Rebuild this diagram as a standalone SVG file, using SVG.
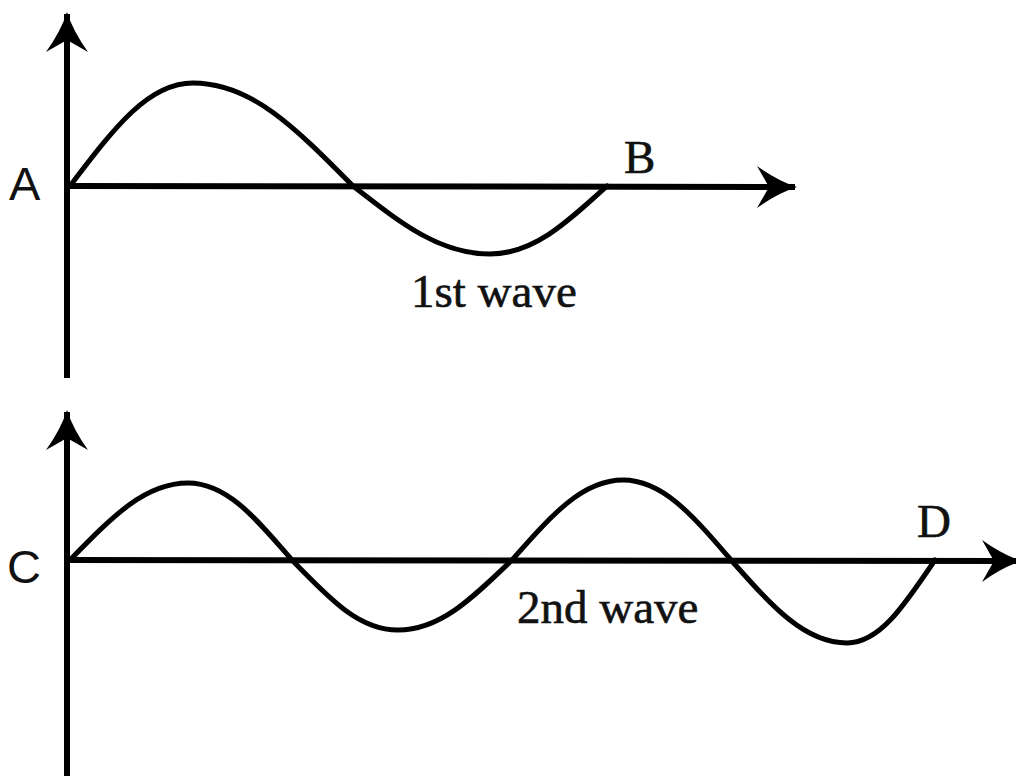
<svg xmlns="http://www.w3.org/2000/svg" width="1016" height="776" viewBox="0 0 1016 776">
<style>
.axis{stroke:#000;stroke-width:6;fill:none;marker-end:url(#arr)}
.wave{stroke:#000;stroke-width:5;fill:none;stroke-linejoin:round;stroke-linecap:round}
.sans{font-family:"Liberation Sans",Arial,sans-serif;font-size:47px;fill:#111}
.serif{font-family:"Liberation Serif","Times New Roman",serif;font-size:47px;fill:#111;stroke:#111;stroke-width:0.6}
</style>
<defs>
<marker id="arr" markerUnits="userSpaceOnUse" markerWidth="44" markerHeight="46" viewBox="-41 -23 44 46" refX="0" refY="0" orient="auto">
<path d="M2,0 Q-17,6 -38,21 L-26,0 L-38,-21 Q-17,-6 2,0 Z" fill="#000"/>
</marker>
</defs>
<rect width="1016" height="776" fill="#fff"/>
<g id="connectors">
<line id="axis1-y" class="axis" x1="67" y1="378" x2="67" y2="14"/>
<line id="axis1-x" class="axis" x1="67" y1="186" x2="795" y2="187"/>
<line id="axis2-y" class="axis" x1="67" y1="776" x2="67" y2="412"/>
<line id="axis2-x" class="axis" x1="67" y1="560" x2="1020" y2="561"/>
</g>
<g id="wave1">
<path class="wave" d="M70,186 C114.8,127.1 148.2,83 193,83 C251.2,83 294.8,127.1 353,186 C402.9,224.9 440.1,254 490,254 C532.6,254 564.4,224.9 607,186"/>
</g>
<g id="wave2">
<path class="wave" d="M70,560 C113,516 145,483 188,483 C225.9,483 254.1,516 292,560 C330.6,600 359.4,630 398,630 C439.5,630 470.5,600 512,560 C552.4,514.2 582.6,480 623,480 C662.3,480 691.7,514.2 731,560 C773.2,607.5 804.8,643 847,643 C879,643 903,607.5 935,560"/>
</g>
<g id="label-A"><text class="sans" x="9" y="200">A</text></g>
<g id="label-B"><text class="serif" x="624" y="173">B</text></g>
<g id="label-1st"><text class="serif" x="411" y="307" font-size="48">1st wave</text></g>
<g id="label-C"><text class="sans" x="7" y="583">C</text></g>
<g id="label-D"><text class="serif" x="917" y="537">D</text></g>
<g id="label-2nd"><text class="serif" x="517" y="623" font-size="50">2nd wave</text></g>
</svg>
